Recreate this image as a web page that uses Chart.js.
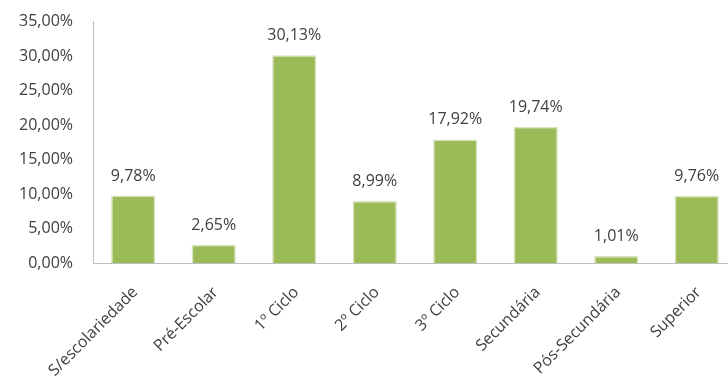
<!DOCTYPE html>
<html>
<head>
<meta charset="utf-8">
<script src="https://cdn.jsdelivr.net/npm/chart.js@4/dist/chart.umd.min.js"></script>
<style>
  html, body { margin: 0; padding: 0; background: #fff; overflow: hidden; }
  #wrap { width: 728px; height: 385px; overflow: hidden; }
</style>
</head>
<body>
<div id="wrap"><canvas id="escolaridadeChart" width="745" height="385"></canvas></div>
<script>
const categorias = ['S/escolariedade', 'Pré-Escolar', '1º Ciclo', '2º Ciclo', '3º Ciclo', 'Secundária', 'Pós-Secundária', 'Superior'];
const percentagens = [9.78, 2.65, 30.13, 8.99, 17.92, 19.74, 1.01, 9.76];
const yMax = 35;
const yPasso = 5;

function formatarPct(v) {
    return v.toFixed(2).replace('.', ',') + '%';
}

// escreve o valor por cima de cada barra
const rotulosBarras = {
    id: 'rotulosBarras',
    afterDatasetsDraw(chart) {
        const ctx = chart.ctx;
        const meta = chart.getDatasetMeta(0);
        ctx.save();
        ctx.font = '16px "Open Sans", sans-serif';
        ctx.fillStyle = '#404040';
        ctx.textAlign = 'center';
        ctx.textBaseline = 'alphabetic';
        meta.data.forEach((bar, i) => {
            ctx.fillText(formatarPct(percentagens[i]), bar.x, bar.y - 15);
        });
        ctx.restore();
    }
};

// o gráfico original passa um pouco da margem direita, por isso o canvas é mais largo que a janela
const ctx = document.getElementById('escolaridadeChart').getContext('2d');
new Chart(ctx, {
    type: 'bar',
    data: {
        labels: categorias,
        datasets: [{
            data: percentagens,
            backgroundColor: '#9bbb59',
            borderColor: '#d7e4bd',
            borderWidth: 1.5,
            barPercentage: 0.55,
            categoryPercentage: 1
        }]
    },
    options: {
        responsive: false,
        animation: false,
        layout: { padding: { left: 0, right: 8, top: 14, bottom: 0 } },
        plugins: {
            legend: { display: false },
            tooltip: { enabled: false }
        },
        scales: {
            x: {
                grid: { display: false },
                border: { display: true, color: '#bfbfbf' },
                ticks: {
                    minRotation: 45,
                    maxRotation: 45,
                    color: '#404040',
                    font: { family: '"Open Sans", sans-serif', size: 16 },
                    padding: 12,
                    labelOffset: 2
                },
                afterFit(scale) { scale.height = 122; }
            },
            y: {
                min: 0,
                max: yMax,
                grid: { display: false },
                border: { display: true, color: '#bfbfbf' },
                ticks: {
                    stepSize: yPasso,
                    color: '#404040',
                    font: { family: '"Open Sans", sans-serif', size: 16 },
                    padding: 12,
                    callback: v => formatarPct(v)
                },
                afterFit(scale) { scale.width = 93; }
            }
        }
    },
    plugins: [rotulosBarras]
});
</script>
</body>
</html>
